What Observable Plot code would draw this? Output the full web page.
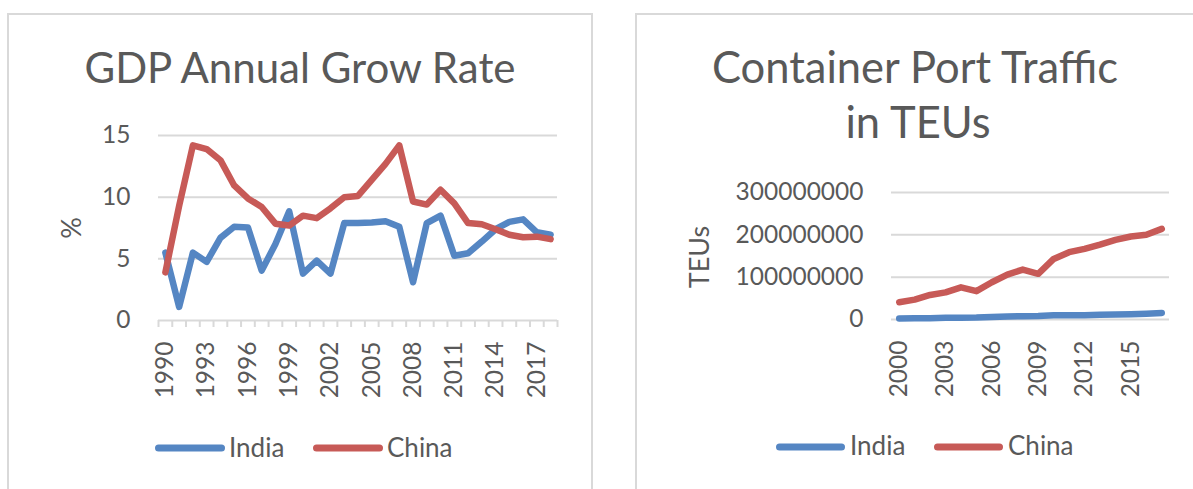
<!DOCTYPE html>
<html><head><meta charset="utf-8">
<script src="https://cdn.jsdelivr.net/npm/d3@7"></script>
<script src="https://cdn.jsdelivr.net/npm/@observablehq/plot@0.6"></script>
<style>
html,body{margin:0;padding:0;background:#fff;overflow:hidden;width:1193px;height:489px;}
#wrap{position:relative;width:1193px;height:489px;overflow:hidden;font-family:Lato,sans-serif;}
.box{position:absolute;border:2px solid #d9d9d9;box-sizing:border-box;}
.panel{position:absolute;top:0;}
#overlay{position:absolute;left:0;top:0;}
</style></head><body>
<div id="wrap">
  <div class="box" style="left:7px;top:13px;width:586px;height:540px"></div>
  <div class="box" style="left:635px;top:13px;width:620px;height:540px"></div>
  <div id="left" class="panel" style="left:0"></div>
  <div id="right" class="panel" style="left:600px"></div>
  <svg id="overlay" width="1193" height="489" font-family="Lato, sans-serif" fill="#595959"></svg>
</div>
<script>
// ---- data ----
const seriesNames = ["India", "China"];
const seriesColors = ["#5586c3", "#c75a57"];

const gdpTitle = "GDP Annual Grow Rate";
const gdpYears = [1990,1991,1992,1993,1994,1995,1996,1997,1998,1999,2000,2001,2002,2003,2004,2005,2006,2007,2008,2009,2010,2011,2012,2013,2014,2015,2016,2017,2018];
const gdpIndia = [5.5,1.1,5.5,4.75,6.7,7.6,7.55,4.05,6.2,8.85,3.8,4.85,3.8,7.9,7.9,7.95,8.05,7.6,3.1,7.9,8.5,5.25,5.45,6.4,7.4,8.0,8.2,7.15,6.95];
const gdpChina = [3.9,9.3,14.2,13.9,13.0,10.95,9.9,9.2,7.85,7.7,8.5,8.3,9.1,10.0,10.1,11.4,12.7,14.2,9.65,9.4,10.6,9.5,7.9,7.8,7.4,6.95,6.75,6.8,6.6];
const gdpTicks = [0, 5, 10, 15];
const gdpLabelYears = [1990,1993,1996,1999,2002,2005,2008,2011,2014,2017];
const gdpYLabel = "%";

const teuTitle = ["Container Port Traffic", "in TEUs"];
const teuYears = [2000,2001,2002,2003,2004,2005,2006,2007,2008,2009,2010,2011,2012,2013,2014,2015,2016,2017];
const teuIndia = [2450000,2800000,3100000,3900000,4300000,4600000,6100000,7300000,7700000,8000000,9800000,10000000,10200000,11100000,11900000,12600000,13800000,15400000];
const teuChina = [40800000,47000000,58000000,64000000,76000000,67000000,88000000,106000000,118000000,108000000,143000000,159000000,167000000,177000000,188000000,196000000,200000000,214000000];
const teuTicks = [0, 100000000, 200000000, 300000000];
const teuLabelYears = [2000,2003,2006,2009,2012,2015];
const teuYLabel = "TEUs";

// ---- build ----
const textColor = "#595959";
const gridColor = "#d9d9d9";

function rows(years, a, b) {
  return seriesNames.flatMap((s, k) => years.map((yr, i) => ({year: yr, value: (k ? b : a)[i], series: s})));
}

function chart({years, data, ticks, labelYears, domainMax, marginLeft, marginRight, marginTop, marginBottom, width, tickMarks, fmt}) {
  const bounds = years.map(y => y - 0.5).concat([years[years.length - 1] + 0.5]);
  const marks = [
    Plot.gridY(ticks, {stroke: gridColor, strokeOpacity: 1, strokeWidth: 2}),
  ];
  if (tickMarks) {
    marks.push(Plot.axisX(bounds, {tickSize: 7, stroke: gridColor, strokeOpacity: 1, strokeWidth: 2, tickFormat: () => "", label: null}));
  }
  marks.push(
    Plot.axisY(ticks, {tickSize: 0, tickPadding: 28, fontSize: 24.5, tickFormat: fmt, label: null}),
    Plot.text(labelYears, {x: d => d, text: d => String(d), frameAnchor: "bottom", rotate: -90, textAnchor: "end", lineAnchor: "middle", dy: 21, fontSize: 24.5, fill: textColor}),
    Plot.line(data, {x: "year", y: "value", stroke: "series", strokeWidth: 6.5, strokeLinejoin: "round", strokeLinecap: "round"})
  );
  return Plot.plot({
    width, height: 489, marginLeft, marginRight, marginTop, marginBottom,
    style: {fontFamily: "Lato, sans-serif", fontSize: "24px", color: textColor, background: "transparent", overflow: "visible"},
    x: {domain: [years[0] - 0.5, years[years.length - 1] + 0.5], axis: null, label: null},
    y: {domain: [0, domainMax], axis: null, label: null},
    color: {domain: seriesNames, range: seriesColors},
    marks
  });
}

document.getElementById("left").append(chart({
  years: gdpYears, data: rows(gdpYears, gdpIndia, gdpChina), ticks: gdpTicks, labelYears: gdpLabelYears,
  domainMax: 15, width: 600, marginLeft: 158, marginRight: 43, marginTop: 135, marginBottom: 169, tickMarks: true,
  fmt: d => String(d)
}));
document.getElementById("right").append(chart({
  years: teuYears, data: rows(teuYears, teuIndia, teuChina), ticks: teuTicks, labelYears: teuLabelYears,
  domainMax: 300000000, width: 593, marginLeft: 291, marginRight: 24, marginTop: 192, marginBottom: 170, tickMarks: false,
  fmt: d => String(d)
}));

// ---- overlay texts & legends ----
const svg = d3.select("#overlay");
function txt(x, y, s, size, anchor = "start", rot = 0) {
  const t = svg.append("text").attr("font-size", size).attr("text-anchor", anchor).text(s);
  if (rot) t.attr("transform", `translate(${x},${y}) rotate(${rot})`).attr("dy", "0.35em");
  else t.attr("x", x).attr("y", y);
}
txt(300, 83, gdpTitle, 42, "middle");
txt(915, 83, teuTitle[0], 43.5, "middle");
txt(918, 138, teuTitle[1], 43.5, "middle");
txt(72, 228, gdpYLabel, 27, "middle", -90);
txt(700, 257, teuYLabel, 27, "middle", -90);

function legend(y0, textY, positions) {
  seriesNames.forEach((s, i) => {
    const p = positions[i];
    svg.append("line").attr("x1", p.l1).attr("x2", p.l2).attr("y1", y0).attr("y2", y0)
      .attr("stroke", seriesColors[i]).attr("stroke-width", 7).attr("stroke-linecap", "round");
    txt(p.t, textY, s, 26);
  });
}
legend(448, 457, [{l1: 158.5, l2: 221.5, t: 229}, {l1: 316.5, l2: 379.5, t: 387}]);
legend(447, 455, [{l1: 779.5, l2: 841.5, t: 850}, {l1: 937.5, l2: 999.5, t: 1008}]);
</script>
</body></html>
